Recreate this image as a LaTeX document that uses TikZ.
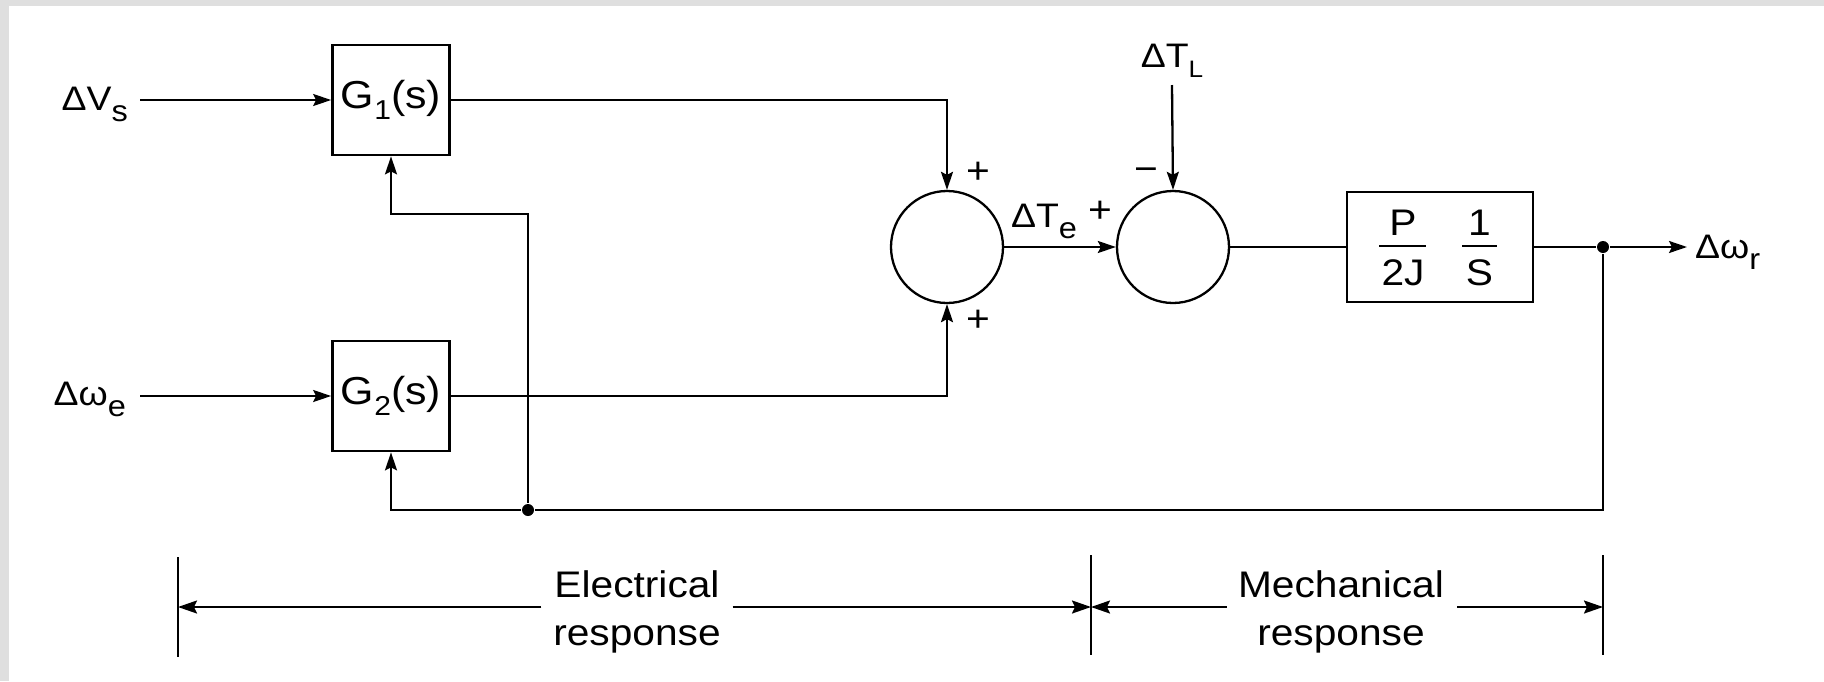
\documentclass[tikz,border=0pt]{standalone}
\usepackage{fontspec}
\setmainfont{Liberation Sans}[FakeStretch=1.1]
\usetikzlibrary{arrows.meta,calc}
\newcommand{\dn}[1]{\raisebox{-0.3em}{\scalebox{0.7}{#1}}}
\newcommand{\dnl}[1]{\raisebox{-0.33em}{\scalebox{0.87}{#1}}}
\begin{document}
\begin{tikzpicture}[x=1pt,y=-1pt,
  line width=2.3pt,
  tip/.style={-{Stealth[length=18pt,width=12pt,inset=3pt]}},
  dimtip/.style={line width=2pt,-{Stealth[length=19pt,width=13pt,inset=3pt]}},
  tick/.style={line width=1.4pt},
  blk/.style={draw,line width=2.7pt,minimum width=117pt,minimum height=110pt,inner sep=0,font=\fontsize{39}{46}\selectfont},
  sumnode/.style={draw,circle,minimum size=112pt,inner sep=0,line width=2.3pt},
  lbl/.style={inner sep=0,font=\fontsize{34}{40}\selectfont},
  sgn/.style={inner sep=0,font=\fontsize{37}{42}\selectfont},
  big/.style={inner sep=0,font=\fontsize{37}{44}\selectfont},
  jdot/.style={circle,fill,inner sep=0,minimum size=12pt},
  ]
\fill[gray!25] (0,0) rectangle (1824,681);
\fill[white] (9,6) rectangle (1824,681);
\useasboundingbox (0,0) rectangle (1824,681);

% blocks
\node[blk] (G1) at (391,100) {G\dn{1}(s)};
\node[blk] (G2) at (391,396) {G\dn{2}(s)};
\node[sumnode] (S1) at (947,247) {};
\node[sumnode] (S2) at (1173,247) {};
\node[draw,line width=2.7pt,minimum width=186pt,minimum height=110pt,inner sep=0] (B) at (1440,247) {};
\node[big,anchor=base] (fP) at (1403,235) {P};
\node[big,anchor=base] (f2J) at (1403,285) {2J};
\node[big,anchor=base] (f1) at (1479.5,235) {1};
\node[big,anchor=base] (fS) at (1479.5,285) {S};
\draw[line width=2.5pt] (1379,246) -- (1426,246);
\draw[line width=2.5pt] (1462,246) -- (1497,246);

% input labels
\node[lbl,anchor=base east] (Vs) at (129,110) {ΔV\dnl{s}};
\coordinate (vs0) at (140,100);
\draw[tip] (vs0) -- (G1.west);
\node[lbl,anchor=base east] (we) at (127,405) {Δω\dnl{e}};
\coordinate (we0) at (140,396);
\draw[tip] (we0) -- (G2.west);

% to first summing junction
\draw[tip] (G1.east) -| (S1.north);
\draw[tip] (G2.east) -| (S1.south);
\node[sgn] (p1) at (978,173) {+};
\node[sgn] (p2) at (978,321) {+};

% Te
\draw[tip] (S1.east) -- (S2.west);
\node[lbl,anchor=base west] (Te) at (1010,227) {ΔT\dnl{e}};
\node[sgn] (p3) at (1100,212) {+};

% TL
\node[lbl,anchor=base] (TL) at (1172,67) {ΔT\dn{L}};
\coordinate (tl0) at (1172,85);
\draw[tip] (tl0) -- (S2.north);
\node[sgn] (m1) at (1146,175) {−};

% to block and output
\draw (S2.east) -- (B.west);
\node[jdot] (J2) at (1603,247) {};
\draw (B.east) -- (J2);
\node[lbl,anchor=base west] (wr) at (1694,258) {Δω\dnl{r}};
\coordinate (wr0) at (1687,247);
\draw[tip] (J2) -- (wr0);

% feedback
\node[jdot] (J1) at (528,510) {};
\draw (J2) |- (J1);
\draw[tip] (J1) -| (G2.south);
\coordinate (k1) at (528,214);
\draw[tip] (J1) -- (k1) -| (G1.south);

% response ranges
\coordinate (t1a) at (178,557); \coordinate (t1b) at (178,657);
\coordinate (t2a) at (1091,555); \coordinate (t2b) at (1091,655);
\coordinate (t3a) at (1603,555); \coordinate (t3b) at (1603,655);
\draw[tick] (t1a) -- (t1b);
\draw[tick] (t2a) -- (t2b);
\draw[tick] (t3a) -- (t3b);
\node[big,anchor=base] (el1) at (637,597) {Electrical};
\node[big,anchor=base] (el2) at (637,645) {response};
\node[big,anchor=base] (me1) at (1341,597) {Mechanical};
\node[big,anchor=base] (me2) at (1341,645) {response};
\draw[dimtip] (el1.west |- 0,607) ++(-12,0) -- (t1a |- 0,607);
\draw[dimtip] (el1.east |- 0,607) ++(12,0) -- (t2a |- 0,607);
\draw[dimtip] (me1.west |- 0,607) ++(-10,0) -- (t2a |- 0,607);
\draw[dimtip] (me1.east |- 0,607) ++(12,0) -- (t3a |- 0,607);
\end{tikzpicture}
\end{document}
